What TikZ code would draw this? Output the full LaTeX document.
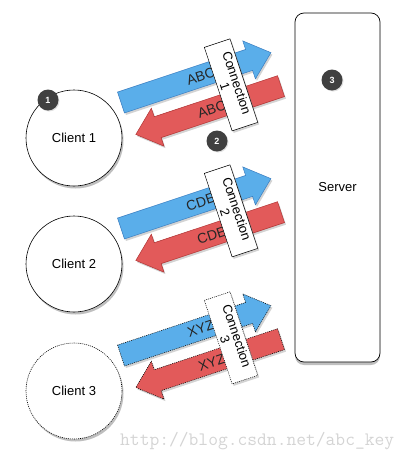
\documentclass[tikz,border=0pt]{standalone}
\usepackage{fontspec}
\setmainfont{Liberation Sans}
\usetikzlibrary{shadows}
\definecolor{bluearr}{HTML}{5AAEEA}
\definecolor{bluedge}{HTML}{3A7DC0}
\definecolor{redarr}{HTML}{E25A5A}
\definecolor{rededge}{HTML}{B03434}
\definecolor{badgegray}{HTML}{404040}
\definecolor{wmgray}{HTML}{D4D4D4}
\begin{document}
\begin{tikzpicture}[x=1pt,y=-1pt,
  softshadow/.style={drop shadow={opacity=0.35, shadow xshift=1.5pt, shadow yshift=-2pt}},
  client/.style={circle, draw=black, line width=0.6pt, fill=white, minimum size=96pt, inner sep=0pt, font=\fontsize{13}{15}\selectfont, drop shadow={opacity=0.5, shadow xshift=1.5pt, shadow yshift=-2.5pt}},
  server/.style={draw=black, line width=0.7pt, fill=white, rounded corners=9pt, minimum width=85pt, minimum height=349pt, inner sep=0pt, font=\fontsize{13}{15}\selectfont, drop shadow={opacity=0.5, shadow xshift=0pt, shadow yshift=-3pt}},
  badge/.style={circle, fill=badgegray, minimum size=21pt, inner sep=0pt, text=white, font=\fontsize{9}{10}\selectfont\bfseries, drop shadow={opacity=0.25, shadow xshift=1pt, shadow yshift=-1pt}},
  bluearrow/.style={fill=bluearr, draw=bluedge, line width=0.5pt, softshadow},
  redarrow/.style={fill=redarr, draw=rededge, line width=0.5pt, softshadow},
  connbox/.style={draw=black, fill=white, line width=0.5pt, minimum width=88pt, minimum height=27pt, inner sep=0pt, rotate=-71.6, softshadow},
  conntext/.style={align=center, rotate=-71.6, font=\fontsize{13}{12.5}\selectfont, inner sep=0pt},
  msg/.style={rotate=18.4, font=\fontsize{14}{16}\selectfont, inner sep=0pt, text=black!85},
  dotline/.style={draw=black, dash pattern=on 1pt off 1pt}
]
\useasboundingbox (0,0) rectangle (411,458);

% server
\node[server] (srv) at (337.5,187.5) {Server};

% clients
\node[client] (cl1) at (74,138) {Client 1};
\node[client] (cl2) at (74,264) {Client 2};
\node[client, dotline] (cl3) at (74,391) {Client 3};

% arrows and connection boxes
\foreach \dy/\lab/\num/\ln in {0/ABC/1/solid, 126/CDE/2/solid, 253/XYZ/3/dotline}{
  \begin{scope}[shift={(121,{102.5+\dy})}, rotate=18.4]
    \path[bluearrow, \ln] (0,-11) -- (135,-11) -- (135,-20) -- (158,0) -- (135,20) -- (135,11) -- (0,11) -- cycle;
    \path[redarrow, \ln] (157,24) -- (27,24) -- (27,15) -- (4,35) -- (27,55) -- (27,46) -- (157,46) -- cycle;
    \node[msg] (mb\num) at (84,0) {\lab};
    \node[msg] (mr\num) at (84,35) {\lab};
    \node[connbox, \ln] (bx\num) at (110,18) {};
    \node[conntext] (tx\num) at (bx\num.center) {Connection\\\num};
  \end{scope}
}

% badges
\node[badge] (bd1) at (48,100) {1};
\node[badge] (bd2) at (217,141) {2};
\node[badge] (bd3) at (332,80) {3};

% watermark
\node[text=wmgray, font=\ttfamily\fontsize{19}{20}\selectfont, anchor=base west, inner sep=0pt] (wm) at (120,445) {http://blog.csdn.net/abc\_key};
\end{tikzpicture}
\end{document}
